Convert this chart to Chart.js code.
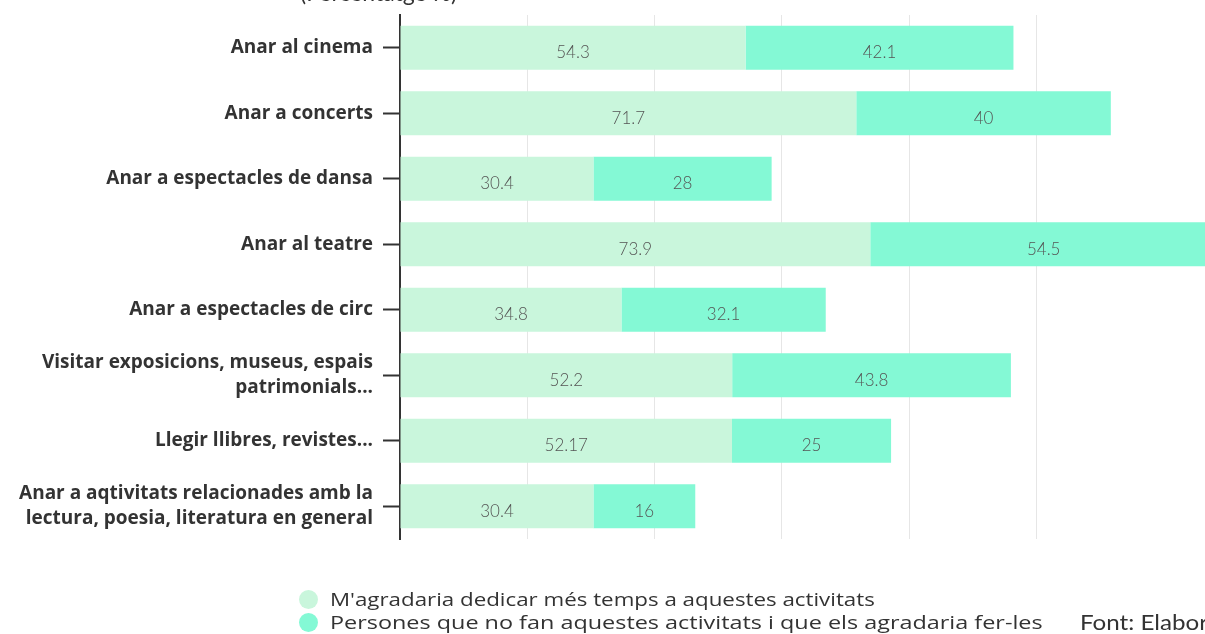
<!DOCTYPE html>
<html>
<head>
<meta charset="utf-8">
<script src="https://cdn.jsdelivr.net/npm/chart.js@4.4.0/dist/chart.umd.min.js"></script>
<style>
  html, body { margin: 0; padding: 0; background: #fff; }
  #wrap { position: relative; width: 1205px; height: 634px; overflow: hidden; }
  #chart { position: absolute; left: 0; top: 0; }
  .title { position: absolute; left: 300px; top: -22px; font-family: 'Lato', sans-serif; font-size: 23px; color: #333; }
  .legend { position: absolute; left: 299px; top: 588px; font-family: 'Open Sans', sans-serif; font-weight: 500; font-size: 18px; color: #333; }
  .legend div { height: 23px; line-height: 23px; white-space: nowrap; }
  .legend span.dot { display: inline-block; width: 19px; height: 19px; border-radius: 50%; vertical-align: -3px; margin-right: 12px; }
  .legend span.txt { display: inline-block; transform-origin: left center; }
  .source { position: absolute; left: 1080px; top: 609px; font-family: 'Lato', sans-serif; font-size: 21px; color: #333; white-space: nowrap; transform: scaleX(1.15); transform-origin: left center; }
</style>
</head>
<body>
<div id="wrap">
  <canvas id="chart" width="1205" height="634"></canvas>
  <div class="title">(Percentatge %)</div>
  <div class="legend" id="legend"></div>
  <div class="source">Font: Elaboració pròpia</div>
</div>
<script>
var categories = [
    'Anar al cinema',
    'Anar a concerts',
    'Anar a espectacles de dansa',
    'Anar al teatre',
    'Anar a espectacles de circ',
    ['Visitar exposicions, museus, espais', 'patrimonials...'],
    'Llegir llibres, revistes...',
    ['Anar a aqtivitats relacionades amb la', 'lectura, poesia, literatura en general']
];
var seriesNames = [
    "M'agradaria dedicar més temps a aquestes activitats",
    'Persones que no fan aquestes activitats i que els agradaria fer-les'
];
var moreTime = [54.3, 71.7, 30.4, 73.9, 34.8, 52.2, 52.17, 30.4];
var wouldLike = [42.1, 40, 28, 54.5, 32.1, 43.8, 25, 16];
var colors = ['#c9f6dc', '#84f9d5'];

// writes the value in the middle of each bar segment
var barValues = {
    id: 'barValues',
    afterDatasetsDraw(chart) {
        var ctx = chart.ctx;
        ctx.save();
        ctx.font = '300 17px Lato, sans-serif';
        ctx.fillStyle = '#555';
        ctx.textAlign = 'center';
        ctx.textBaseline = 'middle';
        chart.data.datasets.forEach(function (ds, i) {
            chart.getDatasetMeta(i).data.forEach(function (bar, j) {
                var x = (bar.x + bar.base) / 2;
                if (x > chart.chartArea.right) return;
                ctx.fillText(String(ds.data[j]), x, bar.y + 5);
            });
        });
        ctx.restore();
    }
};

// legend rows (text stretched a bit like the original)
var legend = document.getElementById('legend');
var stretch = [1.24, 1.3];
seriesNames.forEach(function (name, i) {
    var row = document.createElement('div');
    row.innerHTML = '<span class="dot" style="background:' + colors[i] + '"></span>' +
        '<span class="txt" style="transform:scaleX(' + stretch[i] + ')">' + name + '</span>';
    legend.appendChild(row);
});

new Chart(document.getElementById('chart'), {
    type: 'bar',
    data: {
        labels: categories,
        datasets: [{
            label: seriesNames[0],
            data: moreTime,
            backgroundColor: colors[0],
            barPercentage: 0.67,
            categoryPercentage: 1
        }, {
            label: seriesNames[1],
            data: wouldLike,
            backgroundColor: colors[1],
            barPercentage: 0.67,
            categoryPercentage: 1
        }]
    },
    options: {
        indexAxis: 'y',
        responsive: false,
        animation: false,
        layout: { padding: { top: 15, bottom: 95, left: 0, right: 0 } },
        plugins: {
            legend: { display: false },
            tooltip: { enabled: false }
        },
        scales: {
            x: {
                stacked: true,
                min: 0,
                max: 126.5,
                ticks: { display: false, stepSize: 20 },
                border: { display: false },
                grid: {
                    drawTicks: false,
                    color: function (c) {
                        return c.tick && c.tick.value % 20 === 0 && c.tick.value > 0 ? '#e6e6e6' : 'transparent';
                    }
                }
            },
            y: {
                stacked: true,
                afterFit: function (s) {
                    s.width = 400;
                    s.paddingTop = 0;
                    s.paddingBottom = 0;
                },
                border: { display: true, color: '#333', width: 2 },
                grid: {
                    offset: false,
                    drawOnChartArea: false,
                    tickLength: 17,
                    tickWidth: 2,
                    color: '#333'
                },
                ticks: {
                    padding: 10,
                    color: '#333',
                    font: { family: 'Open Sans', size: 19, weight: 'bold', lineHeight: 1.35 }
                }
            }
        }
    },
    plugins: [barValues]
});
</script>
</body>
</html>
